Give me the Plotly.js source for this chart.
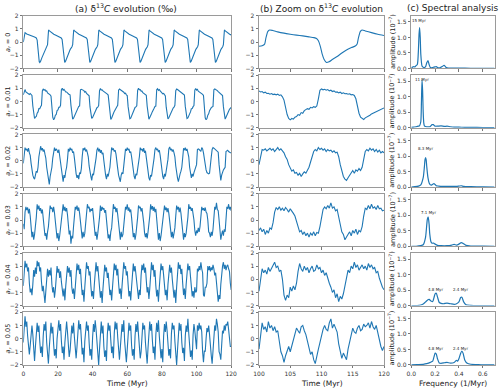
<!DOCTYPE html>
<html><head><meta charset="utf-8">
<script src="https://cdn.plot.ly/plotly-3.0.1.min.js"></script>
<style>html,body{margin:0;padding:0;background:#fff}#chart{width:500px;height:388px}</style>
</head><body><div id="chart"></div>
<script>
// ---------- DATA ----------
const rowLabels = ['0', '0.01', '0.02', '0.03', '0.04', '0.05'];

// column (a): a_r = 0 (irregular time sampling)
const timeA0 = [0, 0.3, 0.7, 1.0, 2, 3.5, 5, 6.5, 7.5, 8.0, 8.4, 8.8, 9.2, 9.5, 10, 10.7, 11.7, 12.7, 13.5, 14.0, 14.3,
 14.6, 15.1, 16.1, 17.6, 19.1, 20.6, 21.9, 22.4, 22.8, 23.2, 23.6, 23.9, 24.4, 25.1, 26.1, 27.1, 28.1, 28.5, 28.8,
 29.1, 29.6, 30.6, 32.1, 33.6, 35.1, 36.4, 36.9, 37.3, 37.7, 38.1, 38.4, 38.9, 39.6, 40.6, 41.6, 42.6, 43.0, 43.3,
 43.6, 44.1, 45.1, 46.6, 48.1, 49.6, 50.9, 51.4, 51.8, 52.2, 52.6, 52.9, 53.4, 54.1, 55.1, 56.1, 57.1, 57.5, 57.8,
 58.1, 58.6, 59.6, 61.1, 62.6, 64.1, 65.4, 65.9, 66.3, 66.7, 67.1, 67.4, 67.9, 68.6, 69.6, 70.6, 71.6, 72.0, 72.3,
 72.6, 73.1, 74.1, 75.6, 77.1, 78.6, 79.9, 80.4, 80.8, 81.2, 81.6, 81.9, 82.4, 83.1, 84.1, 85.1, 86.1, 86.5, 86.8,
 87.1, 87.6, 88.6, 90.1, 91.6, 93.1, 94.4, 94.9, 95.3, 95.7, 96.1, 96.4, 96.9, 97.6, 98.6, 99.6, 100.6, 101.0, 101.3,
 101.6, 102.1, 103.1, 104.6, 106.1, 107.6, 108.9, 109.4, 109.8, 110.2, 110.6, 110.9, 111.4, 112.1, 113.1, 114.1, 115.1, 115.5, 115.8,
 116.1, 116.6, 117.6, 119.1, 120];
const deltaA0 = [0.0, 0.3, 0.65, 0.72, 0.62, 0.52, 0.45, 0.38, 0.32, 0.15, -0.4, -1.1, -1.5, -1.55, -1.45, -1.2, -0.85, -0.55, -0.35, -0.2, 0.4,
 0.92, 0.85, 0.72, 0.6, 0.5, 0.4, 0.32, 0.2, -0.3, -1.0, -1.45, -1.55, -1.45, -1.2, -0.85, -0.55, -0.35, -0.2, 0.4,
 0.92, 0.85, 0.72, 0.6, 0.5, 0.4, 0.32, 0.2, -0.3, -1.0, -1.45, -1.55, -1.45, -1.2, -0.85, -0.55, -0.35, -0.2, 0.4,
 0.92, 0.85, 0.72, 0.6, 0.5, 0.4, 0.32, 0.2, -0.3, -1.0, -1.45, -1.55, -1.45, -1.2, -0.85, -0.55, -0.35, -0.2, 0.4,
 0.92, 0.85, 0.72, 0.6, 0.5, 0.4, 0.32, 0.2, -0.3, -1.0, -1.45, -1.55, -1.45, -1.2, -0.85, -0.55, -0.35, -0.2, 0.4,
 0.92, 0.85, 0.72, 0.6, 0.5, 0.4, 0.32, 0.2, -0.3, -1.0, -1.45, -1.55, -1.45, -1.2, -0.85, -0.55, -0.35, -0.2, 0.4,
 0.92, 0.85, 0.72, 0.6, 0.5, 0.4, 0.32, 0.2, -0.3, -1.0, -1.45, -1.55, -1.45, -1.2, -0.85, -0.55, -0.35, -0.2, 0.4,
 0.92, 0.85, 0.72, 0.6, 0.5, 0.4, 0.32, 0.2, -0.3, -1.0, -1.45, -1.55, -1.45, -1.2, -0.85, -0.55, -0.35, -0.2, 0.4,
 0.92, 0.85, 0.72, 0.6, 0.55];

// column (a): a_r = 0.01 ... 0.05, sampled every 0.5 Myr from 0 to 120
const timeAStart = 0, timeAStep = 0.5;
const deltaA1 = [0.5, 0.85, 0.9, 0.72, 0.68, 0.62, 0.58, 0.52, 0.6, 0.5,
 0.45, -0.35, -1.1, -1.3, -1.2, -1.15, -0.9, -0.8, -0.55, -0.55, -0.4, -0.3, 0.8, 0.95, 0.85, 0.9, 0.78, 0.8, 0.65, 0.6, 0.62, 0.5,
 0.4, -0.45, -1.2, -1.4, -1.3, -1.05, -1.0, -0.7, -0.65, -0.45, -0.45, -0.3, 0.9, 1.0, 0.85, 0.92, 0.78, 0.72, 0.72, 0.6, 0.58, 0.52,
 0.5, -0.3, -1.15, -1.35, -1.28, -1.12, -0.9, -0.78, -0.58, -0.52, -0.38, -0.35, 0.88, 0.92, 0.9, 0.85, 0.82, 0.7, 0.75, 0.6, 0.55, 0.5,
 0.42, -0.42, -1.18, -1.3, -1.22, -1.08, -0.98, -0.72, -0.62, -0.48, -0.44, -0.32, 0.82, 0.98, 0.86, 0.88, 0.8, 0.76, 0.68, 0.64, 0.58, 0.56,
 0.48, -0.38, -1.12, -1.38, -1.26, -1.14, -0.92, -0.76, -0.6, -0.5, -0.4, -0.3, 0.86, 0.94, 0.9, 0.86, 0.84, 0.74, 0.7, 0.6, 0.62, 0.5,
 0.44, -0.4, -1.16, -1.32, -1.28, -1.1, -0.96, -0.74, -0.64, -0.46, -0.42, -0.34, 0.84, 1.0, 0.88, 0.9, 0.78, 0.78, 0.66, 0.62, 0.56, 0.54,
 0.46, -0.36, -1.14, -1.36, -1.22, -1.12, -0.94, -0.78, -0.58, -0.52, -0.38, -0.36, 0.88, 0.96, 0.84, 0.9, 0.8, 0.72, 0.72, 0.58, 0.6, 0.52,
 0.42, -0.44, -1.2, -1.34, -1.24, -1.06, -0.98, -0.72, -0.62, -0.5, -0.44, -0.3, 0.82, 0.94, 0.9, 0.84, 0.82, 0.76, 0.68, 0.64, 0.56, 0.5,
 0.48, -0.38, -1.1, -1.3, -1.26, -1.14, -0.9, -0.8, -0.56, -0.54, -0.4, -0.32, 0.86, 0.98, 0.86, 0.92, 0.78, 0.74, 0.7, 0.6, 0.6, 0.54,
 0.45, -0.5, -1.25, -1.4, -1.3, -1.05, -0.95, -0.7, -0.55, -0.48, -0.42, -0.38, 0.88, 0.95, 0.9, 0.88, 0.82, 0.75, 0.7, 0.6, 0.58, 0.5,
 0.45, -0.4, -1.15, -1.35, -1.2, -1.0, -0.9, -0.75, -0.6, -0.55, -0.45];
const deltaA2 = [-0.2,
 0.5, 1.0, 0.8, 0.9, 0.7, 0.95, 0.6, 0.4, -0.2, -0.8, -1.1, -1.3, -1.4, -1.1, -0.8, -0.9, -0.5,
 0.3, 0.9, 1.1, 0.8, 0.95, 0.7, 0.85, 0.5, 0.2, -0.5, -1.0, -1.4, -1.8, -1.2, -0.9, -0.5,
 0.2, 0.8, 1.0, 0.75, 0.9, 0.8, 0.6, 0.85, 0.3, -0.3, -0.9, -1.2, -1.6, -1.1, -1.3, -0.8, -0.5,
 0.1, 0.9, 0.7, 1.0, 0.8, 0.9, 0.6, 0.7, 0.2, -0.5, -1.0, -1.3, -1.1, -1.4, -0.9, -1.0, -0.6,
 0.3, 0.95, 0.8, 1.0, 0.7, 0.85, 0.6, 0.3, -0.4, -1.0, -1.2, -1.5, -1.0, -1.1, -0.7, -0.4,
 0.2, 0.8, 1.0, 0.7, 0.9, 0.6, 0.8, 0.5, 0.6, 0.0, -0.7, -1.1, -1.4, -1.0, -1.2, -0.8, -0.5,
 0.3, 1.0, 0.85, 0.9, 0.7, 0.8, 0.5, 0.1, -0.6, -1.1, -1.3, -1.6, -1.1, -0.9, -1.0, -0.5,
 0.2, 0.9, 0.75, 1.0, 0.8, 0.9, 0.6, 0.7, 0.3, -0.3, -0.9, -1.2, -1.4, -1.0, -1.1, -0.7, -0.4,
 0.3, 1.0, 0.8, 0.9, 0.7, 0.95, 0.6, 0.75, 0.2, -0.5, -1.0, -1.3, -1.5, -1.1, -1.2, -0.8, -0.5,
 0.2, 0.85, 1.0, 0.8, 0.9, 0.65, 0.8, 0.4, -0.3, -0.9, -1.2, -1.4, -1.0, -1.2, -0.8, -0.5,
 0.1, 0.9, 1.05, 0.8, 0.9, 0.7, 0.85, 0.6, 0.3, -0.4, -1.0, -1.3, -1.6, -1.2, -1.0, -0.8, -0.5,
 0.2, 0.95, 0.8, 1.0, 0.75, 0.9, 0.6, 0.3, -0.5, -1.1, -1.3, -1.0, -1.2, -0.9, -0.7, -0.5,
 -0.3, 0.85, 0.9, 0.85, 0.8, 0.7, 1.0, 0.9, 0.6, 0.1, -0.5, -0.7, -0.9, -0.95, -1.0, -0.95, -0.5,
 0.3, 0.85, 1.0, 0.95, 0.9, 0.85, 0.8, 0.75, 0.65, -0.3, -1.2, -1.5, -1.1, -0.75, -0.7, -0.6, -0.5,
 0.7, 0.75, 0.8, 0.7, 0.6, 0.6, 0.6];
const deltaA3 = [-0.3, -0.7, 0.6, 1.0, 0.75, 0.95, 0.5, 0.85, 0.3, -0.6, -1.3, -0.9, -1.5, -1.1, -0.6,
 0.2, 1.2, 0.8, 1.1, 0.7, 0.9, 0.5, 0.8, 0.1, -0.8, -1.2, -1.0, -1.5, -0.9, -0.5,
 0.3, 1.1, 0.85, 0.95, 0.6, 1.0, 0.55, 0.0, -0.9, -1.4, -1.0, -1.6, -1.2, -0.6,
 0.1, 0.9, 1.2, 0.7, 1.0, 0.65, 0.9, 0.4, -0.3, -1.1, -0.8, -1.8, -1.2, -1.4, -0.5,
 0.2, 1.0, 0.8, 1.1, 0.7, 0.95, 0.5, -0.2, -1.0, -1.4, -0.9, -1.3, -1.0, -0.4,
 0.3, 1.2, 0.9, 1.0, 0.6, 0.85, 0.7, 0.9, 0.2, -0.7, -1.2, -0.9, -1.5, -1.0, -0.5,
 0.2, 1.1, 0.7, 1.0, 0.8, 0.9, 0.55, 0.75, 0.0, -0.9, -1.4, -1.1, -1.6, -0.9, -0.6,
 0.3, 1.2, 0.85, 1.0, 0.6, 0.9, 0.4, -0.3, -1.1, -1.5, -0.9, -1.3, -1.1, -0.5,
 0.1, 1.0, 0.8, 1.2, 0.7, 0.95, 0.6, 0.8, 0.2, -0.8, -1.3, -1.0, -1.5, -1.1, -0.6,
 0.2, 1.1, 0.9, 1.0, 0.65, 0.9, 0.5, -0.2, -1.0, -1.3, -1.0, -1.4, -0.9, -0.4,
 0.3, 1.2, 0.8, 1.05, 0.7, 1.0, 0.6, 0.85, 0.1, -0.8, -1.5, -1.0, -1.6, -1.2, -0.5,
 0.2, 0.9, 1.1, 0.75, 0.95, 0.6, 0.9, 0.5, -0.1, -1.0, -1.3, -0.9, -1.4, -1.0, -0.6,
 0.3, 1.1, 0.8, 1.0, 0.6, 0.95, 0.5, -0.3, -1.1, -1.5, -1.0, -1.3, -1.0, -0.5,
 0.2, 1.2, 0.85, 1.0, 0.7, 0.9, 0.55, 0.0, -0.8, -1.2, -0.8, -1.0, -0.6, -0.9, -0.5,
 0.7, 1.0, 0.75, 0.9, 0.7, 0.95, 0.6, 0.5, 0.0, -0.9, -1.0, -1.3, -0.9, -1.2, -0.7,
 0.2, 1.0, 0.8, 1.3, 0.8, 0.7, 0.0, -1.0, -1.5, -1.1, -0.8, -1.2, -0.7, -0.9,
 0.3, 1.0, 0.85, 1.2, 0.8, 1.0, 0.7];
const deltaA4 = [-0.5, 0.5, 1.4, 0.9, 1.2, 0.6, 0.9, -0.3, -1.0, -0.7, -1.2, -0.4, 0.7, 0.2, 0.9, 0.4, 1.4, 1.0, 1.3, 0.6,
 0.9, -0.2, -0.9, -0.5, -1.2, -1.8, -0.9, 0.3, 0.8, 0.2, 0.7, 0.3, 0.9, -0.4, -1.0, -0.6, -1.4, -0.8, 0.4, 1.0,
 0.5, 0.8, 0.1, 0.6, -0.2, -0.9, -1.3, -0.7, -1.6, -0.5, 0.6, 1.0, 0.5, 0.9, 0.2, 0.7, -0.6, -1.1, -0.7, -1.5,
 -0.6, 0.5, 1.2, 0.7, 1.1, 0.4, 0.8, -0.3, -1.2, -0.8, -1.7, -0.6, 0.6, 1.3, 0.8, 1.0, 0.3, 0.6, -0.5, -1.3,
 -0.9, -1.5, -0.4, 0.7, 1.3, 0.6, 1.0, 0.2, -0.6, -1.4, -0.9, -1.8, -0.7, 0.5, 1.1, 0.6, 0.9, 0.1, 0.5, -0.4,
 -1.2, -0.8, -1.6, -0.6, 0.6, 1.2, 0.7, 1.1, 0.3, 0.8, -0.3, -1.1, -0.7, -1.5, -0.5, 0.7, 1.3, 0.8, 1.0, 0.3,
 0.6, -0.4, -1.3, -0.9, -1.6, -0.6, 0.5, 1.2, 0.6, 1.0, 0.4, -0.2, -1.1, -1.5, -0.8, -1.2, 0.3, 1.1, 0.7, 1.2,
 0.5, 0.9, -0.1, -1.0, -0.6, -1.5, -0.7, 0.4, 1.3, 0.7, 1.1, 0.2, 0.7, -0.5, -1.3, -0.8, -1.7, -0.6, 0.5, 1.2,
 0.7, 1.0, 0.3, -0.6, -1.2, -0.8, -1.6, -0.4, 0.6, 1.1, 0.5, 0.9, 0.0, -0.9, -1.4, -0.8, -1.8, -0.6, 0.7, 1.3,
 0.8, 1.1, 0.4, 0.8, -0.3, -1.2, -0.7, -1.5, -0.4, 0.6, 1.2, 0.7, 1.0, 0.2, -0.5, -1.3, -0.9, -1.4, -0.6, -1.0,
 -0.9, 0.8, 0.6, 1.0, 0.7, 1.3, 0.8, 0.5, -1.2, -1.3, -0.6, -0.6, -0.3, 1.0, 0.7, 1.0, 0.6, 0.9, 0.7, 1.1,
 0.8, 0.3, 0.5, -0.5, -1.2, -1.7, -1.2, -1.5, -0.4, 0.8, 1.0, 1.3, 0.8, 1.1, 0.7, 1.0, 1.1, 0.8, 0.6, -0.3,
 -0.8];
const deltaA5 = [-0.3, 0.6, 1.7, 0.9, 1.3, 0.2, -0.8, -1.2, -0.5, 0.4, 1.0, 0.3, -0.9, -1.7, -0.6, 0.7, 1.2, 0.5, 1.0, -0.2,
 -1.1, -0.6, -1.4, 0.2, 1.1, 0.6, 1.3, -0.3, -1.0, -1.9, -0.7, 0.5, 1.2, 0.4, 0.9, -0.4, -1.3, -0.8, -1.5, 0.0,
 0.9, 1.4, 0.6, 1.1, -0.2, -1.1, -0.6, -1.6, -0.3, 0.8, 1.3, 0.5, -0.5, -1.4, -0.9, 0.2, 1.0, 0.4, 1.2, 0.1,
 -0.9, -1.5, -0.6, 0.6, 1.4, 0.7, 1.1, 0.0, -1.2, -0.7, -1.8, -0.2, 0.9, 1.3, 0.6, 1.0, -0.3, -1.3, -0.8, -1.6,
 0.1, 1.1, 0.5, 1.4, 0.7, -0.4, -1.2, -2.0, -0.8, 0.6, 1.3, 0.4, 1.0, -0.6, -1.4, -0.9, -1.7, 0.3, 1.2, 0.6,
 1.0, -0.1, -1.1, -0.6, -1.5, 0.4, 1.3, 0.7, 1.2, 0.1, -1.0, -1.6, -0.7, 0.5, 1.1, 0.5, 1.4, -0.2, -1.2, -1.8,
 -0.8, 0.6, 1.2, 0.6, 1.0, -0.5, -1.3, -0.8, -1.6, 0.2, 1.1, 0.5, 1.3, 0.3, -0.8, -1.5, -1.0, 0.4, 1.2, 0.7,
 1.0, -0.3, -1.2, -1.9, -0.7, 0.5, 1.3, 0.6, 1.1, -0.1, -1.1, -0.6, -1.6, 0.3, 1.2, 0.5, 1.4, 0.2, -0.9, -1.5,
 -0.8, -1.8, 0.2, 1.1, 0.5, 1.3, 0.6, -0.6, -1.3, -0.8, -1.5, 0.4, 1.2, 0.7, 1.0, -0.2, -1.2, -2.0, -0.9, 0.5,
 1.2, 0.6, 1.1, -0.3, -1.1, -0.7, -1.7, 0.2, 1.0, 0.5, 1.5, 0.4, -0.8, -1.4, -0.9, -1.6, 0.3, 1.1, 0.6, -0.4,
 -0.8, 1.0, 0.6, 1.2, 0.7, 1.0, 0.5, -1.0, -1.8, -0.9, -1.0, 0.0, 0.8, 0.5, 1.0, 0.3, -0.8, -1.3, -1.9, -0.8,
 0.3, 1.0, 0.6, 1.5, 1.1, 0.5, -1.0, -1.2, -1.6, -0.5, 0.6, 0.4, 1.0, 0.6, 1.1, 1.0, 1.3, 0.7, 0.0, -0.6,
 -0.6];

// column (b): zoom 100–120 Myr
const timeB0 = [100, 100.5, 100.9, 101.1, 101.4, 101.7, 102.2, 103, 104, 105, 106, 107, 108, 108.8, 109.2, 109.5, 109.8, 110.1, 110.4, 110.8,
 111.2, 111.8, 112.5, 113.2, 114, 114.8, 115.4, 115.7, 115.9, 116.2, 116.5, 117, 118, 119, 120];
const deltaB0 = [-0.32, -0.28, -0.15, 0.3, 0.8, 0.92, 0.88, 0.78, 0.68, 0.6, 0.53, 0.47, 0.4, 0.34, 0.28, 0.1, -0.3, -0.9, -1.3, -1.55,
 -1.5, -1.3, -1.1, -0.85, -0.6, -0.42, -0.3, -0.15, 0.3, 0.8, 0.92, 0.85, 0.72, 0.6, 0.5];
const timeBStart = 100, timeBStep = 0.25;
const deltaB1 = [0.8, 0.72, 0.75, 0.65, 0.7, 0.6, 0.62, 0.55, 0.6, 0.52, 0.55, 0.5, 0.55, 0.45, 0.5, 0.35,
 0.1, -0.5, -1.0, -1.3, -1.4, -1.3, -1.35, -1.2, -1.15, -1.0, -1.05, -0.85, -0.9, -0.7, -0.65, -0.55,
 -0.6, -0.45, -0.5, -0.4, -0.45, -0.35, 0.2, 0.85, 0.95, 0.88, 0.92, 0.85, 0.9, 0.8, 0.85, 0.75,
 0.8, 0.7, 0.72, 0.65, 0.7, 0.6, 0.65, 0.58, 0.6, 0.55, 0.58, 0.5, 0.52, 0.45, 0.2, -0.4,
 -0.9, -1.2, -1.3, -1.38, -1.25, -1.2, -1.1, -1.05, -0.95, -0.9, -0.8, -0.75, -0.7, -0.65, -0.6, -0.55, -0.5];
const deltaB2 = [-0.3, 0.4, 0.85, 0.8, 0.9, 0.75, 0.85, 0.95, 0.8, 0.9, 0.7, 0.85, 1.0, 0.8, 0.9, 0.75,
 0.6, 0.3, 0.1, -0.3, -0.5, -0.8, -0.7, -0.95, -0.9, -1.1, -0.95, -1.2, -1.0, -0.85, -0.95, -0.7,
 -0.5, -0.1, 0.3, 0.7, 0.85, 0.75, 1.0, 0.85, 0.95, 0.8, 0.9, 0.7, 0.85, 0.75, 0.8, 0.65,
 0.75, 0.6, 0.65, 0.3, -0.3, -0.8, -1.2, -1.4, -1.5, -1.3, -1.1, -0.9, -0.75, -0.95, -0.7, -0.8,
 -0.6, -0.75, -0.5, 0.1, 0.7, 0.85, 0.75, 0.95, 0.8, 0.9, 0.7, 0.85, 0.65, 0.8, 0.6, 0.7, 0.6];
const deltaB3 = [-0.8, -0.6, -0.9, -0.7, -1.1, -0.8, -1.0, -0.6, -0.7, -0.2, 0.6, 0.95, 0.8, 1.0, 0.75, 0.9,
 0.7, 0.95, 0.8, 0.6, 0.85, 0.7, 0.5, 0.3, -0.1, -0.5, -0.9, -0.8, -1.1, -0.9, -1.2, -1.0,
 -1.3, -1.0, -1.15, -0.9, -1.2, -0.95, -1.0, -0.5, 0.2, 0.8, 1.0, 0.85, 1.1, 0.9, 1.3, 0.9,
 1.0, 0.7, 0.8, 0.3, -0.3, -0.9, -1.1, -1.5, -1.3, -1.1, -0.9, -1.2, -0.8, -1.0, -0.7, -1.1,
 -0.8, -0.9, -0.5, 0.3, 0.9, 0.8, 1.1, 0.85, 1.2, 0.9, 1.0, 0.8, 1.1, 0.85, 0.9, 0.7, 0.75];
const deltaB4 = [-0.9, 0.2, 0.8, 0.5, 0.7, 0.4, 0.9, 0.6, 0.8, 1.1, 1.3, 0.9, 1.0, 0.6, 0.7, 0.0,
 -1.2, -1.6, -1.2, -1.4, -0.6, -0.9, -0.5, -0.8, -0.3, 0.6, 1.2, 0.8, 0.6, 1.0, 0.7, 0.9,
 0.5, 0.8, 1.0, 0.6, 0.7, 1.1, 0.8, 0.9, 0.5, 0.7, 0.3, 0.5, 0.0, -0.3, -0.6, -1.0,
 -0.8, -1.4, -1.1, -1.7, -1.3, -1.5, -1.1, -0.4, 0.2, 0.7, 0.5, 1.0, 0.8, 1.3, 0.9, 1.1,
 0.7, 0.9, 1.1, 0.8, 1.0, 0.7, 1.2, 0.9, 1.1, 0.8, 0.9, 0.5, 0.6, 0.1, -0.3, -0.6, -0.8];
const deltaB5 = [-0.8, 0.4, 1.2, 0.7, 0.9, 0.5, 1.3, 0.8, 1.0, 0.6, 0.9, 0.5, 0.6, -0.2, -1.0, -1.3,
 -1.8, -1.3, -0.9, -0.6, -1.0, -0.5, 0.0, 0.5, 0.8, 0.6, 0.4, 0.9, 1.0, 0.6, 0.3, -0.2,
 -0.8, -1.2, -1.0, -1.6, -1.9, -1.2, -0.8, -0.3, 0.3, 0.7, 1.0, 0.7, 0.6, 1.2, 1.5, 0.8,
 1.1, 0.8, 0.5, -0.4, -1.0, -1.5, -1.1, -1.3, -1.6, -0.8, -0.2, 0.2, 0.8, 0.5, 0.4, 0.8,
 1.0, 0.6, 0.7, 1.1, 0.9, 1.0, 1.2, 0.8, 1.3, 0.9, 0.7, 1.0, 0.4, 0.0, -0.6, -0.9, -0.6];

// column (c): spectra (amplitude in 1e-7)
const freqC0 = [0, 0.01, 0.02, 0.03, 0.04, 0.05, 0.055, 0.06, 0.065, 0.07, 0.075, 0.08, 0.09, 0.1, 0.11, 0.12, 0.13, 0.14, 0.15, 0.16, 0.17, 0.18, 0.2, 0.21, 0.22, 0.24, 0.26, 0.275, 0.29, 0.3, 0.35, 0.4, 0.5, 0.6, 0.7];
const ampC0 = [0.02, 0.04, 0.06, 0.05, 0.09, 0.12, 0.25, 0.6, 1.1, 1.32, 1.0, 0.45, 0.08, 0.04, 0.03, 0.06, 0.18, 0.25, 0.12, 0.03, 0.02, 0.03, 0.05, 0.06, 0.03, 0.02, 0.06, 0.1, 0.04, 0.02, 0.01, 0.01, 0.005, 0.005, 0.005];
const freqC1 = [0, 0.02, 0.04, 0.06, 0.07, 0.08, 0.085, 0.09, 0.095, 0.1, 0.105, 0.11, 0.12, 0.14, 0.16, 0.175, 0.185, 0.2, 0.22, 0.25, 0.28, 0.3, 0.33, 0.36, 0.4, 0.45, 0.5, 0.6, 0.7];
const ampC1 = [0.01, 0.02, 0.03, 0.05, 0.07, 0.2, 0.8, 1.55, 1.2, 0.5, 0.15, 0.06, 0.04, 0.03, 0.04, 0.1, 0.1, 0.05, 0.05, 0.06, 0.04, 0.05, 0.03, 0.02, 0.02, 0.01, 0.01, 0.005, 0.005];
const freqC2 = [0, 0.03, 0.06, 0.08, 0.1, 0.11, 0.115, 0.12, 0.125, 0.13, 0.14, 0.15, 0.16, 0.17, 0.18, 0.19, 0.2, 0.21, 0.23, 0.26, 0.3, 0.34, 0.38, 0.4, 0.42, 0.44, 0.5, 0.6, 0.7];
const ampC2 = [0.0, 0.01, 0.03, 0.07, 0.3, 0.65, 0.88, 0.95, 0.88, 0.65, 0.3, 0.13, 0.07, 0.06, 0.09, 0.11, 0.08, 0.04, 0.03, 0.02, 0.02, 0.02, 0.02, 0.03, 0.04, 0.02, 0.01, 0.005, 0.0];
const freqC3 = [0, 0.04, 0.08, 0.1, 0.12, 0.13, 0.135, 0.142, 0.15, 0.155, 0.165, 0.175, 0.19, 0.2, 0.22, 0.25, 0.3, 0.34, 0.36, 0.38, 0.4, 0.42, 0.44, 0.46, 0.5, 0.6, 0.7];
const ampC3 = [0.0, 0.0, 0.02, 0.05, 0.3, 0.7, 0.88, 0.95, 0.7, 0.4, 0.15, 0.1, 0.1, 0.07, 0.03, 0.02, 0.02, 0.04, 0.06, 0.04, 0.07, 0.12, 0.08, 0.03, 0.01, 0.005, 0.0];
const freqC4 = [0, 0.05, 0.08, 0.1, 0.12, 0.14, 0.15, 0.165, 0.18, 0.19, 0.2, 0.21, 0.22, 0.235, 0.25, 0.27, 0.3, 0.33, 0.36, 0.38, 0.4, 0.415, 0.425, 0.44, 0.46, 0.5, 0.55, 0.6, 0.7];
const ampC4 = [0, 0.0, 0.02, 0.05, 0.12, 0.19, 0.2, 0.15, 0.13, 0.25, 0.38, 0.4, 0.28, 0.1, 0.07, 0.06, 0.08, 0.06, 0.04, 0.06, 0.12, 0.26, 0.27, 0.12, 0.03, 0.01, 0.0, 0.0, 0.0];
const freqC5 = [0, 0.05, 0.1, 0.13, 0.16, 0.18, 0.19, 0.2, 0.21, 0.22, 0.235, 0.25, 0.28, 0.3, 0.33, 0.36, 0.38, 0.39, 0.4, 0.415, 0.425, 0.435, 0.45, 0.47, 0.5, 0.55, 0.6, 0.7];
const ampC5 = [0.0, 0.01, 0.02, 0.04, 0.08, 0.12, 0.25, 0.38, 0.35, 0.2, 0.06, 0.05, 0.07, 0.08, 0.06, 0.08, 0.15, 0.12, 0.2, 0.38, 0.45, 0.38, 0.15, 0.05, 0.02, 0.01, 0.0, 0.0];

// peak labels in panel (c): text, frequency, amplitude
const peakLabels = [
  {row: 0, text: '15 Myr', f: 0.065, a: 1.56},
  {row: 1, text: '11 Myr', f: 0.092, a: 1.55},
  {row: 2, text: '8.3 Myr', f: 0.123, a: 1.25},
  {row: 3, text: '7.1 Myr', f: 0.142, a: 1.08},
  {row: 4, text: '4.8 Myr', f: 0.2, a: 0.53}, {row: 4, text: '2.4 Myr', f: 0.41, a: 0.53},
  {row: 5, text: '4.8 Myr', f: 0.2, a: 0.54}, {row: 5, text: '2.4 Myr', f: 0.41, a: 0.54}
];

// ---------- BUILD ----------
const W = 500, H = 388;
const colPx = [[23.3, 231.2], [259, 384], [411.3, 494.6]];
const rowTopPx = 15.8, rowStepPx = 59.3, rowHPx = 52.6;
const grid = (t0, dt, n) => Array.from({length: n}, (_, i) => +(t0 + i * dt).toFixed(3));

const seriesA = [[timeA0, deltaA0]].concat([deltaA1, deltaA2, deltaA3, deltaA4, deltaA5].map(v => [grid(timeAStart, timeAStep, v.length), v]));
const seriesB = [[timeB0, deltaB0]].concat([deltaB1, deltaB2, deltaB3, deltaB4, deltaB5].map(v => [grid(timeBStart, timeBStep, v.length), v]));
const seriesC = [[freqC0, ampC0], [freqC1, ampC1], [freqC2, ampC2], [freqC3, ampC3], [freqC4, ampC4], [freqC5, ampC5]];

const blue = '#1f77b4';
const FONT = 'DejaVu Sans, Liberation Sans, sans-serif';
const traces = [];
const layout = {
  width: W, height: H, margin: {l: 0, r: 0, t: 0, b: 0},
  paper_bgcolor: '#fff', plot_bgcolor: '#fff', showlegend: false,
  font: {family: FONT, color: '#222'}, annotations: []
};
const axBase = {
  showline: true, mirror: true, linecolor: '#9a9a9a', linewidth: 1,
  ticks: 'outside', ticklen: 2.5, tickwidth: 0.8, tickcolor: '#555',
  showgrid: false, zeroline: false, fixedrange: true,
  tickfont: {family: FONT, size: 6, color: '#333'}
};

for (let r = 0; r < 6; r++) {
  const top = rowTopPx + r * rowStepPx, bot = top + rowHPx;
  const yd = [1 - bot / H, 1 - top / H];
  for (let c = 0; c < 3; c++) {
    const k = r * 3 + c + 1;
    const xn = 'xaxis' + (k === 1 ? '' : k), yn = 'yaxis' + (k === 1 ? '' : k);
    const xr = 'x' + (k === 1 ? '' : k), yr = 'y' + (k === 1 ? '' : k);
    const xd = [colPx[c][0] / W, colPx[c][1] / W];
    const xa = Object.assign({}, axBase, {domain: xd, anchor: yr, showticklabels: r === 5});
    const ya = Object.assign({}, axBase, {domain: yd, anchor: xr});
    let s, lw = 1.1, shape = 'linear';
    if (c === 0) {
      xa.range = [0, 120]; xa.tickvals = [0, 20, 40, 60, 80, 100, 120];
      ya.range = [-2, 2]; ya.tickvals = [-2, -1, 0, 1, 2];
      s = seriesA[r];
    } else if (c === 1) {
      xa.range = [100, 120]; xa.tickvals = [100, 105, 110, 115, 120];
      ya.range = [-2, 2]; ya.tickvals = [-2, -1, 0, 1, 2];
      s = seriesB[r];
      if (r === 0) shape = 'spline';
    } else {
      xa.range = [0, 0.7]; xa.tickvals = [0, 0.2, 0.4, 0.6]; xa.ticktext = ['0.0', '0.2', '0.4', '0.6'];
      ya.range = [0, 1.7]; ya.tickvals = [0, 0.5, 1, 1.5]; ya.ticktext = ['0.0', '0.5', '1.0', '1.5'];
      s = seriesC[r]; shape = 'spline'; lw = 1.2;
    }
    layout[xn] = xa; layout[yn] = ya;
    traces.push({x: s[0], y: s[1], xaxis: xr, yaxis: yr, type: 'scatter', mode: 'lines',
      line: {color: blue, width: lw, shape: shape, smoothing: 0.6}, hoverinfo: 'skip'});
  }
  const yc = 1 - (top + bot) / 2 / H;
  layout.annotations.push({xref: 'paper', yref: 'paper', x: 8 / W, y: yc, xanchor: 'center', yanchor: 'middle',
    textangle: -90, showarrow: false, text: '<i>a<sub>r</sub></i> = ' + rowLabels[r], font: {size: 6.5, family: FONT, color: '#222'}});
  layout.annotations.push({xref: 'paper', yref: 'paper', x: 392 / W, y: yc, xanchor: 'center', yanchor: 'middle',
    textangle: -90, showarrow: false, text: 'amplitude (10<sup>−7</sup>)', font: {size: 6.5, family: FONT, color: '#222'}});
}

peakLabels.forEach(p => {
  const k = p.row * 3 + 3;
  layout.annotations.push({xref: 'x' + k, yref: 'y' + k, x: p.f, y: p.a, xanchor: 'center', yanchor: 'middle',
    showarrow: false, text: p.text, font: {size: 4, family: FONT, color: '#222'}});
});

const titles = [
  {x: 126, text: '(a) δ<sup>13</sup><i>C</i> evolution (‰)'},
  {x: 321, text: '(b) Zoom on δ<sup>13</sup><i>C</i> evolution'},
  {x: 453, text: '(c) Spectral analysis'}
];
titles.forEach(t => layout.annotations.push({xref: 'paper', yref: 'paper', x: t.x / W, y: 1 - 8 / H,
  xanchor: 'center', yanchor: 'middle', showarrow: false, text: t.text, font: {size: 9, family: FONT, color: '#222'}}));
const xTitles = [{x: 127.3, text: 'Time (Myr)'}, {x: 321.5, text: 'Time (Myr)'}, {x: 453, text: 'Frequency (1/Myr)'}];
xTitles.forEach(t => layout.annotations.push({xref: 'paper', yref: 'paper', x: t.x / W, y: 1 - 383 / H,
  xanchor: 'center', yanchor: 'middle', showarrow: false, text: t.text, font: {size: 7.5, family: FONT, color: '#222'}}));

Plotly.newPlot('chart', traces, layout, {staticPlot: true, displayModeBar: false});
</script></body></html>
